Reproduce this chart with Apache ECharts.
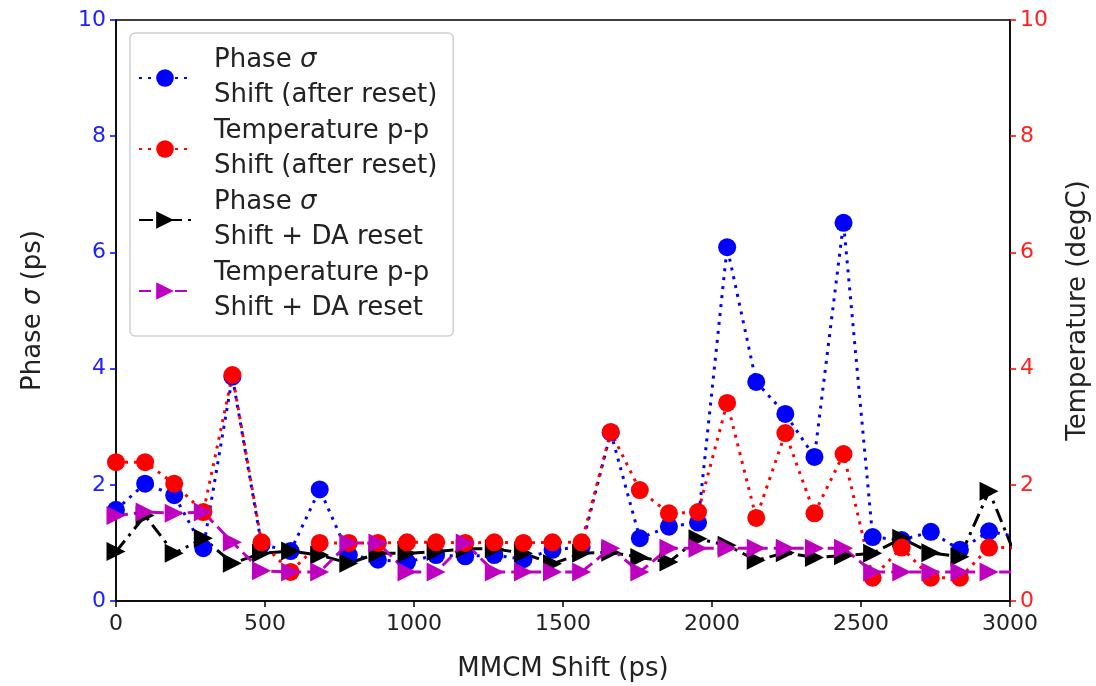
<!DOCTYPE html>
<html>
<head>
<meta charset="utf-8">
<script src="https://cdn.jsdelivr.net/npm/echarts@6/dist/echarts.min.js"></script>
<style>
html, body { margin: 0; padding: 0; background: #fff; }
#main { width: 1096px; height: 686px; }
</style>
</head>
<body>
<div id="main"></div>
<script>
// MMCM shift steps (ps)
var shiftPs = [0, 97.7, 195.3, 293.0, 390.6, 488.3, 585.9, 683.6, 781.3, 878.9, 976.6, 1074.2,
	1171.9, 1269.5, 1367.2, 1464.8, 1562.5, 1660.2, 1757.8, 1855.5, 1953.1, 2050.8, 2148.4,
	2246.1, 2343.8, 2441.4, 2539.1, 2636.7, 2734.4, 2832.0, 2929.7, 3027.3];
// phase sigma, shift after reset (ps)
var phaseAfter = [1.57, 2.02, 1.82, 0.91, 3.86, 0.97, 0.86, 1.92, 0.79, 0.71, 0.67, 0.79,
	0.77, 0.79, 0.72, 0.88, 0.93, 2.90, 1.08, 1.28, 1.35, 6.09, 3.77,
	3.22, 2.48, 6.51, 1.10, 1.05, 1.19, 0.88, 1.20, 1.10];
// temperature p-p, shift after reset (degC)
var tempAfter = [2.39, 2.39, 2.02, 1.53, 3.89, 1.01, 0.50, 1.00, 1.00, 1.00, 1.01, 1.01,
	1.00, 1.01, 1.00, 1.01, 1.01, 2.91, 1.91, 1.51, 1.53, 3.41, 1.43,
	2.89, 1.51, 2.53, 0.40, 0.92, 0.40, 0.40, 0.92, 0.92];
// phase sigma, shift + DA reset (ps)
var phaseDA = [0.85, 1.47, 0.82, 1.08, 0.65, 0.82, 0.86, 0.79, 0.65, 0.82, 0.82, 0.85,
	0.90, 0.90, 0.82, 0.64, 0.82, 0.84, 0.75, 0.67, 1.07, 0.96, 0.70,
	0.83, 0.75, 0.78, 0.82, 1.08, 0.83, 0.76, 1.89, 0.67];
// temperature p-p, shift + DA reset (degC)
var tempDA = [1.47, 1.53, 1.51, 1.53, 1.01, 0.52, 0.50, 0.50, 1.00, 1.00, 0.50, 0.50,
	1.00, 0.50, 0.50, 0.50, 0.50, 0.91, 0.50, 0.91, 0.91, 0.91, 0.91,
	0.91, 0.91, 0.91, 0.50, 0.50, 0.50, 0.50, 0.50, 0.50];
var xTicks = [0, 500, 1000, 1500, 2000, 2500, 3000];
var yTicks = [0, 2, 4, 6, 8, 10];

var NAME_PA = 'Phase {i|σ}\nShift (after reset)';
var NAME_TA = 'Temperature p-p\nShift (after reset)';
var NAME_PD = 'Phase {i|σ}\nShift + DA reset';
var NAME_TD = 'Temperature p-p\nShift + DA reset';
var FONT = 'DejaVu Sans';
var TICK_FS = 22, LABEL_FS = 26;

function pairs(ys) {
	var out = [];
	for (var i = 0; i < ys.length; i++) out.push([shiftPs[i], ys[i]]);
	return out;
}

function makeSeries(name, ys, axis, color, symbol, lineType) {
	return {
		name: name,
		type: 'line',
		yAxisIndex: axis,
		data: pairs(ys),
		symbol: symbol,
		symbolSize: symbol == 'circle' ? 18 : 19,
		symbolRotate: symbol == 'triangle' ? -90 : 0,
		showAllSymbol: true,
		clip: true,
		color: color,
		itemStyle: { color: color },
		lineStyle: { color: color, width: 3, type: lineType, cap: 'butt' },
		animation: false
	};
}

var myChart = echarts.init(document.getElementById('main'));
var option = {
	animation: false,
	grid: {
		left: 116, right: 86, top: 20, bottom: 85,
		outerBoundsMode: 'none', containLabel: false,
		show: true, borderColor: '#000', borderWidth: 1.5, backgroundColor: '#fff'
	},
	legend: {
		orient: 'vertical',
		left: 130, top: 33,
		data: [NAME_PA, NAME_TA, NAME_PD, NAME_TD],
		itemWidth: 52, itemHeight: 22, itemGap: 1,
		padding: [10, 16, 10, 8],
		borderColor: '#d0d0d0', borderWidth: 1.5, borderRadius: 5,
		backgroundColor: 'rgba(255,255,255,0.85)',
		textStyle: {
			fontFamily: FONT, fontSize: LABEL_FS, color: '#222', lineHeight: 35,
			padding: [0, 0, 0, 18],
			rich: { i: { fontStyle: 'italic', fontFamily: FONT, fontSize: LABEL_FS, lineHeight: 35 } }
		}
	},
	xAxis: {
		type: 'value', min: 0, max: 3000, interval: 500,
		name: 'MMCM Shift (ps)', nameLocation: 'middle', nameGap: 55,
		nameTextStyle: { fontFamily: FONT, fontSize: LABEL_FS, color: '#222' },
		axisLine: { lineStyle: { color: '#000', width: 1.5 } },
		axisTick: { show: true, length: 6, lineStyle: { color: '#000', width: 1.5 } },
		axisLabel: {
			fontFamily: FONT, fontSize: TICK_FS, color: '#222', margin: 12,
			customValues: xTicks,
			formatter: function(v) { return String(v); }
		},
		splitLine: { show: false }
	},
	yAxis: [{
		type: 'value', min: 0, max: 10, interval: 2, position: 'left',
		name: 'Phase {i|σ} (ps)', nameLocation: 'middle', nameGap: 70, nameRotate: 90,
		nameTextStyle: {
			fontFamily: FONT, fontSize: LABEL_FS, color: '#222',
			rich: { i: { fontStyle: 'italic', fontFamily: FONT, fontSize: LABEL_FS } }
		},
		axisLine: { show: true, lineStyle: { color: '#000', width: 1.5 } },
		axisTick: { show: true, length: 6, lineStyle: { color: '#0000ff', width: 1.5 } },
		axisLabel: { fontFamily: FONT, fontSize: TICK_FS, color: '#2020ff', margin: 10, customValues: yTicks },
		splitLine: { show: false }
	}, {
		type: 'value', min: 0, max: 10, interval: 2, position: 'right',
		name: 'Temperature (degC)', nameLocation: 'middle', nameGap: 55, nameRotate: 90,
		nameTextStyle: { fontFamily: FONT, fontSize: LABEL_FS, color: '#222' },
		axisLine: { show: true, lineStyle: { color: '#000', width: 1.5 } },
		axisTick: { show: true, length: 6, lineStyle: { color: '#ff0000', width: 1.5 } },
		axisLabel: { fontFamily: FONT, fontSize: TICK_FS, color: '#ff2020', margin: 10, customValues: yTicks },
		splitLine: { show: false }
	}],
	series: [
		makeSeries(NAME_PA, phaseAfter, 0, '#0000ff', 'circle', [3, 6]),
		makeSeries(NAME_PD, phaseDA, 0, '#000000', 'triangle', [14, 6, 3, 6]),
		makeSeries(NAME_TA, tempAfter, 1, '#ff0000', 'circle', [3, 6]),
		makeSeries(NAME_TD, tempDA, 1, '#bf00bf', 'triangle', [12, 6])
	]
};
myChart.setOption(option);
</script>
</body>
</html>
